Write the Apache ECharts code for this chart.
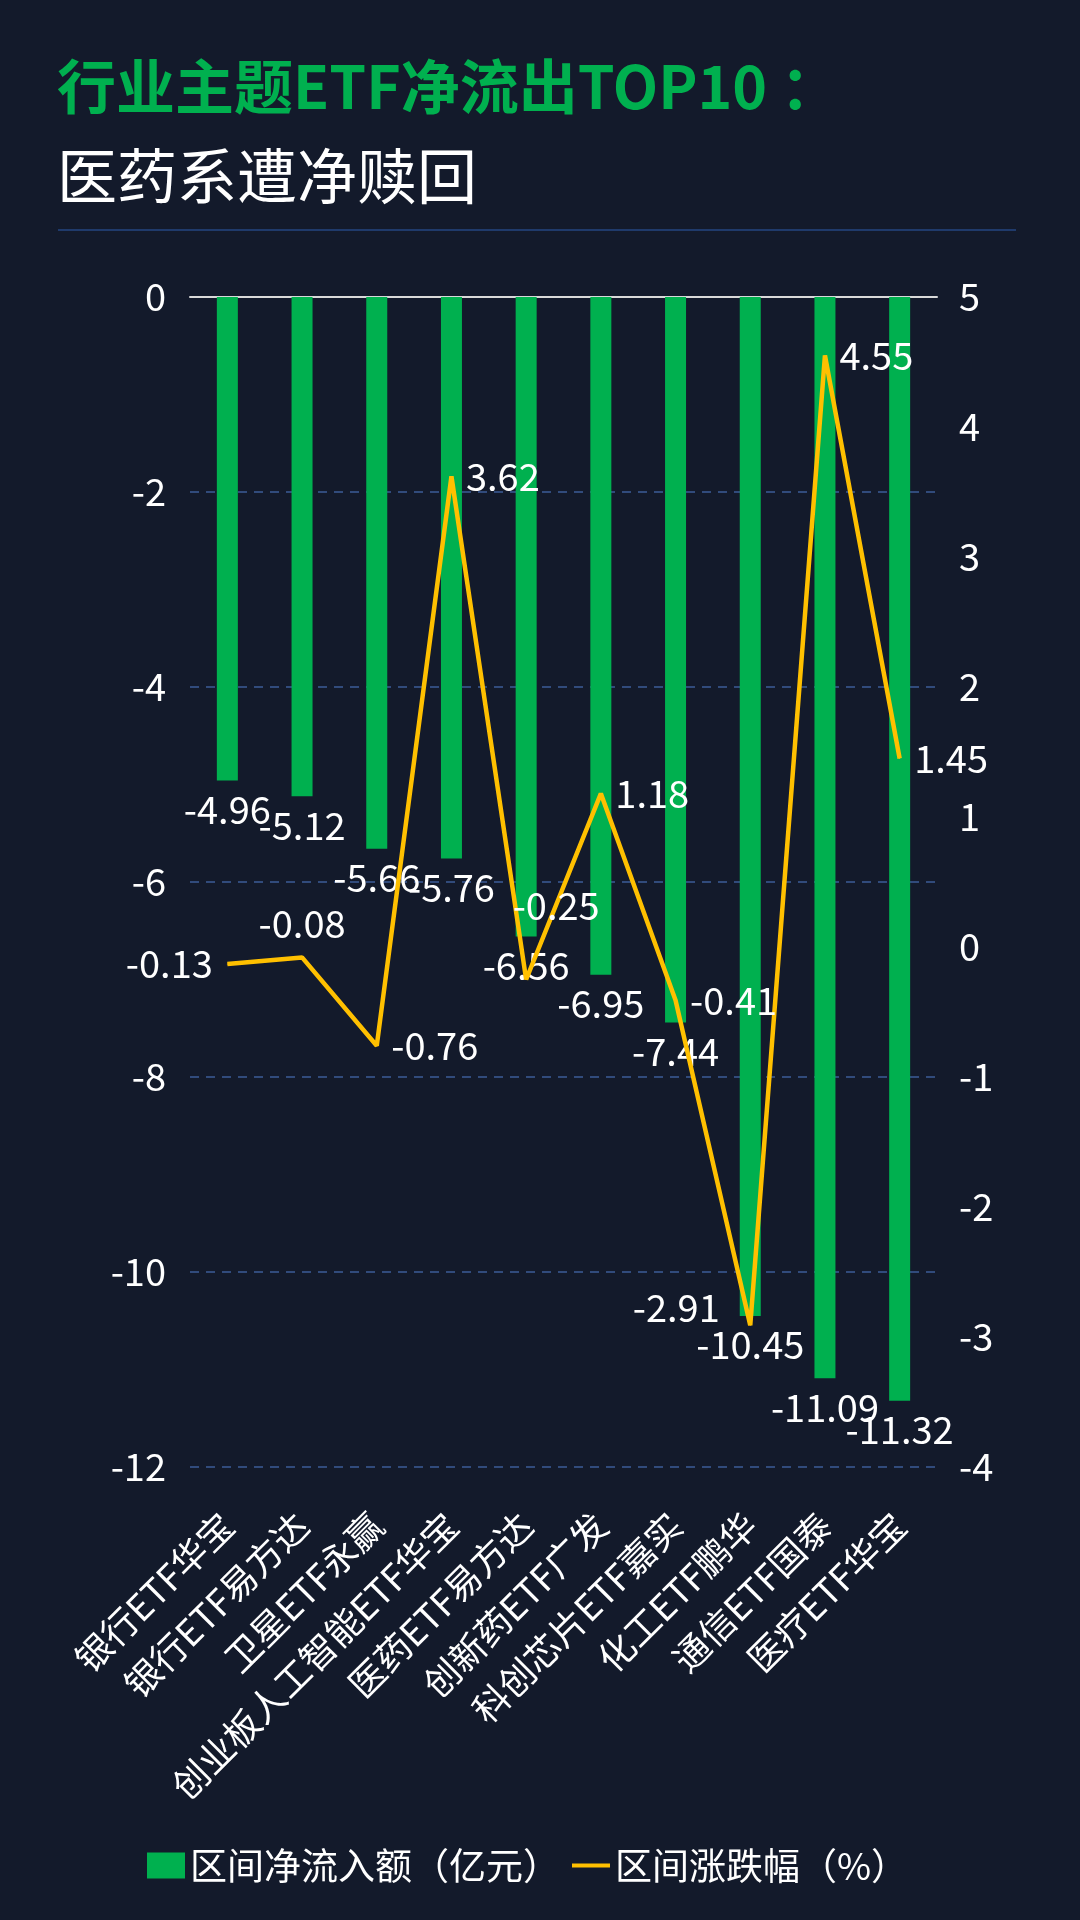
<!DOCTYPE html>
<html>
<head>
<meta charset="utf-8">
<script src="https://cdn.jsdelivr.net/npm/echarts@6/dist/echarts.min.js"></script>
<style>
  html, body { margin: 0; padding: 0; background: #131a2b; }
  #chart { width: 1080px; height: 1920px; }
</style>
</head>
<body>
<div id="chart"></div>
<script>
var categories = ["银行ETF华宝", "银行ETF易方达", "卫星ETF永赢", "创业板人工智能ETF华宝", "医药ETF易方达",
    "创新药ETF广发", "科创芯片ETF嘉实", "化工ETF鹏华", "通信ETF国泰", "医疗ETF华宝"];
var netFlow = [-4.96, -5.12, -5.66, -5.76, -6.56, -6.95, -7.44, -10.45, -11.09, -11.32];
var change = [-0.13, -0.08, -0.76, 3.62, -0.25, 1.18, -0.41, -2.91, 4.55, 1.45];
var leftTicks = {min: -12, max: 0, interval: 2};
var rightTicks = {min: -4, max: 5, interval: 1};

// where each line label sits relative to its point
var lineLabelPos = ["left", "top", "right", "right", "top", "right", "right", "left", "right", "right"];
var lineLabelOffset = {4: [30, -40], 7: [0, -18]};

var font = "'Noto Sans CJK SC', 'Noto Sans', sans-serif";
var green = "#00b04f";
var gold = "#ffc000";

var lineData = change.map(function (v, i) {
    var lbl = {position: lineLabelPos[i], distance: i === 7 ? 30 : 14};
    if (lineLabelOffset[i]) lbl.offset = lineLabelOffset[i];
    return {value: v, label: lbl};
});

var chart = echarts.init(document.getElementById("chart"));
chart.setOption({
    backgroundColor: "#131a2b",
    textStyle: {fontFamily: font},
    title: [{
        text: "行业主题ETF净流出TOP10 ：",
        left: 57, top: 57, padding: 0,
        textStyle: {color: green, fontSize: 59, fontWeight: "bold", fontFamily: font}
    }, {
        text: "医药系遭净赎回",
        left: 57, top: 146, padding: 0,
        textStyle: {color: "#ffffff", fontSize: 60, fontWeight: "normal", fontFamily: font}
    }],
    graphic: [{
        type: "line",
        shape: {x1: 58, y1: 230, x2: 1016, y2: 230},
        style: {stroke: "#1f3a6b", lineWidth: 2}
    }],
    grid: {left: 190, right: 143, top: 297, bottom: 453},
    legend: {
        top: 1842,
        left: 142,
        itemWidth: 38,
        itemHeight: 26,
        itemGap: 12,
        textStyle: {color: "#ffffff", fontSize: 37, fontFamily: font},
        data: [
            {name: "区间净流入额（亿元）", icon: "rect"},
            {name: "区间涨跌幅（%）", icon: "path://M0,0L40,0L40,4L0,4Z"}
        ]
    },
    xAxis: [{
        type: "category",
        data: categories,
        position: "bottom",
        axisLine: {show: false},
        axisTick: {show: false},
        axisLabel: {
            color: "#ffffff", fontSize: 36, rotate: 45, interval: 0, margin: 52, fontFamily: font
        }
    }, {
        type: "category",
        data: categories,
        position: "top",
        axisLine: {show: true, onZero: false, lineStyle: {color: "#d9d9d9", width: 2}},
        axisTick: {show: false},
        axisLabel: {show: false}
    }],
    yAxis: [{
        type: "value",
        min: leftTicks.min, max: leftTicks.max, interval: leftTicks.interval,
        axisLine: {show: false},
        axisTick: {show: false},
        axisLabel: {color: "#ffffff", fontSize: 38, margin: 24, fontFamily: font},
        splitLine: {lineStyle: {color: "#3d5c98", width: 1.5, type: [9, 7]}}
    }, {
        type: "value",
        min: rightTicks.min, max: rightTicks.max, interval: rightTicks.interval,
        axisLine: {show: false},
        axisTick: {show: false},
        axisLabel: {color: "#ffffff", fontSize: 38, margin: 22, fontFamily: font},
        splitLine: {show: false}
    }],
    series: [{
        name: "区间净流入额（亿元）",
        type: "bar",
        data: netFlow,
        barWidth: 21,
        itemStyle: {color: green},
        label: {
            show: true, position: "bottom", distance: 10,
            color: "#ffffff", fontSize: 38, fontFamily: font
        }
    }, {
        name: "区间涨跌幅（%）",
        type: "line",
        yAxisIndex: 1,
        data: lineData,
        symbol: "circle",
        symbolSize: 1,
        lineStyle: {color: gold, width: 4.5},
        itemStyle: {color: gold},
        label: {show: true, color: "#ffffff", fontSize: 38, fontFamily: font},
        z: 5
    }]
});
</script>
</body>
</html>
